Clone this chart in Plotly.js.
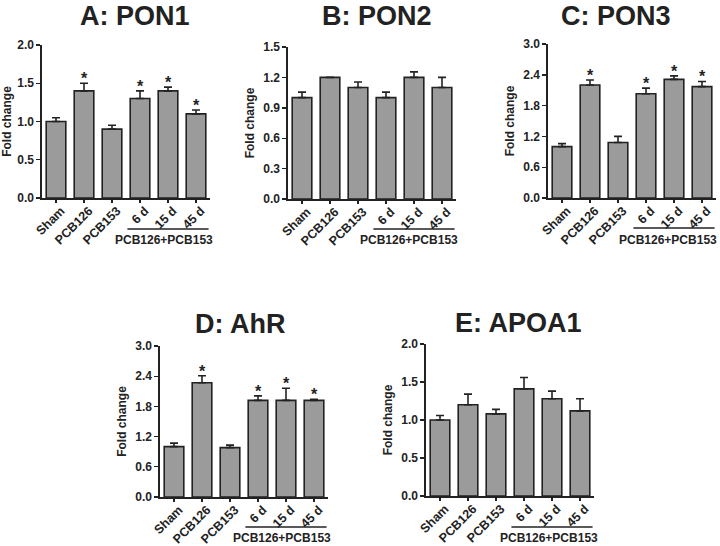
<!DOCTYPE html>
<html>
<head>
<meta charset="utf-8">
<script src="https://cdn.plot.ly/plotly-3.0.1.min.js"></script>
<style>html,body{margin:0;padding:0;background:#fff;}#chart{width:720px;height:546px;}</style>
</head>
<body>
<div id="chart"></div>
<script>
const categories = ['Sham', 'PCB126', 'PCB153', '6 d', '15 d', '45 d'];
const groupLabel = 'PCB126+PCB153';

const pon1 = [1.0, 1.4, 0.9, 1.3, 1.4, 1.1];
const pon1Err = [0.05, 0.1, 0.05, 0.1, 0.05, 0.05];
const pon1Sig = ['', '*', '', '*', '*', '*'];

const pon2 = [1.0, 1.2, 1.1, 1.0, 1.2, 1.1];
const pon2Err = [0.055, 0, 0.055, 0.055, 0.055, 0.1];
const pon2Sig = ['', '', '', '', '', ''];

const pon3 = [1.0, 2.2, 1.08, 2.03, 2.31, 2.17];
const pon3Err = [0.06, 0.1, 0.12, 0.11, 0.07, 0.1];
const pon3Sig = ['', '*', '', '*', '*', '*'];

const ahr = [1.0, 2.27, 0.98, 1.92, 1.92, 1.92];
const ahrErr = [0.07, 0.14, 0.05, 0.09, 0.24, 0.02];
const ahrSig = ['', '*', '', '*', '*', '*'];

const apoa1 = [1.0, 1.2, 1.08, 1.41, 1.28, 1.12];
const apoa1Err = [0.06, 0.14, 0.06, 0.15, 0.1, 0.16];
const apoa1Sig = ['', '', '', '', '', ''];

const titles = ['A: PON1', 'B: PON2', 'C: PON3', 'D: AhR', 'E: APOA1'];
const yMax = [2.0, 1.5, 3.0, 3.0, 2.0];
const yStep = [0.5, 0.3, 0.6, 0.6, 0.5];

const W = 720, H = 546;
// layout geometry in pixels
const geom = [
  {l: 42, r: 210, t: 45, b: 198, tx: 135, ty: 16, gl: 229, gy: 240, gx: 3.86},
  {l: 288, r: 456, t: 47, b: 199, tx: 377, ty: 16, gl: 229, gy: 240, gx: 3.83},
  {l: 548, r: 716, t: 44, b: 198, tx: 616, ty: 16, gl: 228, gy: 240, gx: 3.78},
  {l: 160, r: 328, t: 346, b: 497, tx: 240, ty: 324, gl: 527, gy: 538, gx: 3.86},
  {l: 426, r: 594, t: 344, b: 496, tx: 518, ty: 323, gl: 527, gy: 538, gx: 3.88}
];

const series = [
  {v: pon1, e: pon1Err, s: pon1Sig},
  {v: pon2, e: pon2Err, s: pon2Sig},
  {v: pon3, e: pon3Err, s: pon3Sig},
  {v: ahr, e: ahrErr, s: ahrSig},
  {v: apoa1, e: apoa1Err, s: apoa1Sig}
];

const FONT = 'Liberation Sans, Arial, Helvetica, sans-serif';
const DARK = '#222222';
const traces = [];
const layout = {
  width: W, height: H,
  margin: {l: 0, r: 0, t: 0, b: 0},
  paper_bgcolor: '#ffffff', plot_bgcolor: '#ffffff',
  showlegend: false,
  font: {family: FONT, color: DARK, size: 12},
  bargap: 0.3,
  annotations: [], shapes: []
};

series.forEach((sr, i) => {
  const n = i + 1;
  const xa = n === 1 ? 'x' : 'x' + n;
  const ya = n === 1 ? 'y' : 'y' + n;
  const g = geom[i];
  traces.push({
    type: 'bar', x: categories, y: sr.v, xaxis: xa, yaxis: ya,
    marker: {color: '#9b9b9b', line: {color: DARK, width: 1.6}},
    error_y: {type: 'data', array: sr.e, arrayminus: sr.e.map(() => 0), symmetric: false,
      color: DARK, thickness: 1.6, width: 4},
    hoverinfo: 'none'
  });
  sr.s.forEach((mark, k) => {
    if (!mark) return;
    layout.annotations.push({
      text: mark, xref: xa, yref: ya, x: categories[k], y: sr.v[k] + sr.e[k],
      xanchor: 'center', yanchor: 'bottom', yshift: -6, showarrow: false,
      font: {family: FONT, size: 16, weight: 'bold', color: DARK}
    });
  });
  const xk = n === 1 ? 'xaxis' : 'xaxis' + n;
  const yk = n === 1 ? 'yaxis' : 'yaxis' + n;
  layout[xk] = {
    domain: [g.l / W, g.r / W], anchor: ya,
    type: 'category', range: [-0.5, 5.5],
    showline: true, linecolor: DARK, linewidth: 1.6,
    ticks: 'outside', ticklen: 3, tickwidth: 1.4, tickcolor: DARK,
    tickangle: -45, ticklabelstandoff: -4, ticklabelshift: 5,
    tickfont: {family: FONT, size: 12.5, weight: 'bold', color: DARK},
    showgrid: false, zeroline: false, fixedrange: true
  };
  layout[yk] = {
    domain: [1 - g.b / H, 1 - g.t / H], anchor: xa,
    range: [0, yMax[i]], dtick: yStep[i], tick0: 0, tickformat: '.1f',
    showline: true, linecolor: DARK, linewidth: 1.6,
    ticks: 'outside', ticklen: 4, tickwidth: 1.4, tickcolor: DARK,
    tickfont: {family: FONT, size: 12, weight: 'bold', color: DARK},
    title: {text: 'Fold change', font: {family: FONT, size: 12, weight: 'bold', color: DARK}, standoff: 6},
    showgrid: false, zeroline: false, fixedrange: true
  };
  layout.annotations.push({
    text: titles[i], xref: 'paper', yref: 'paper', x: g.tx / W, y: 1 - g.ty / H,
    xanchor: 'center', yanchor: 'middle', showarrow: false,
    font: {family: FONT, size: 27, weight: 'bold', color: DARK}
  });
  layout.annotations.push({
    text: groupLabel, xref: xa, yref: 'paper', x: g.gx, y: 1 - g.gy / H,
    xanchor: 'center', yanchor: 'middle', showarrow: false,
    font: {family: FONT, size: 12, weight: 'bold', color: DARK}
  });
  layout.shapes.push({
    type: 'line', xref: xa, yref: 'paper', x0: 2.55, x1: 5.45,
    y0: 1 - g.gl / H, y1: 1 - g.gl / H, line: {color: DARK, width: 1.4}
  });
});

Plotly.newPlot('chart', traces, layout, {staticPlot: true, displayModeBar: false});
</script>
</body>
</html>
